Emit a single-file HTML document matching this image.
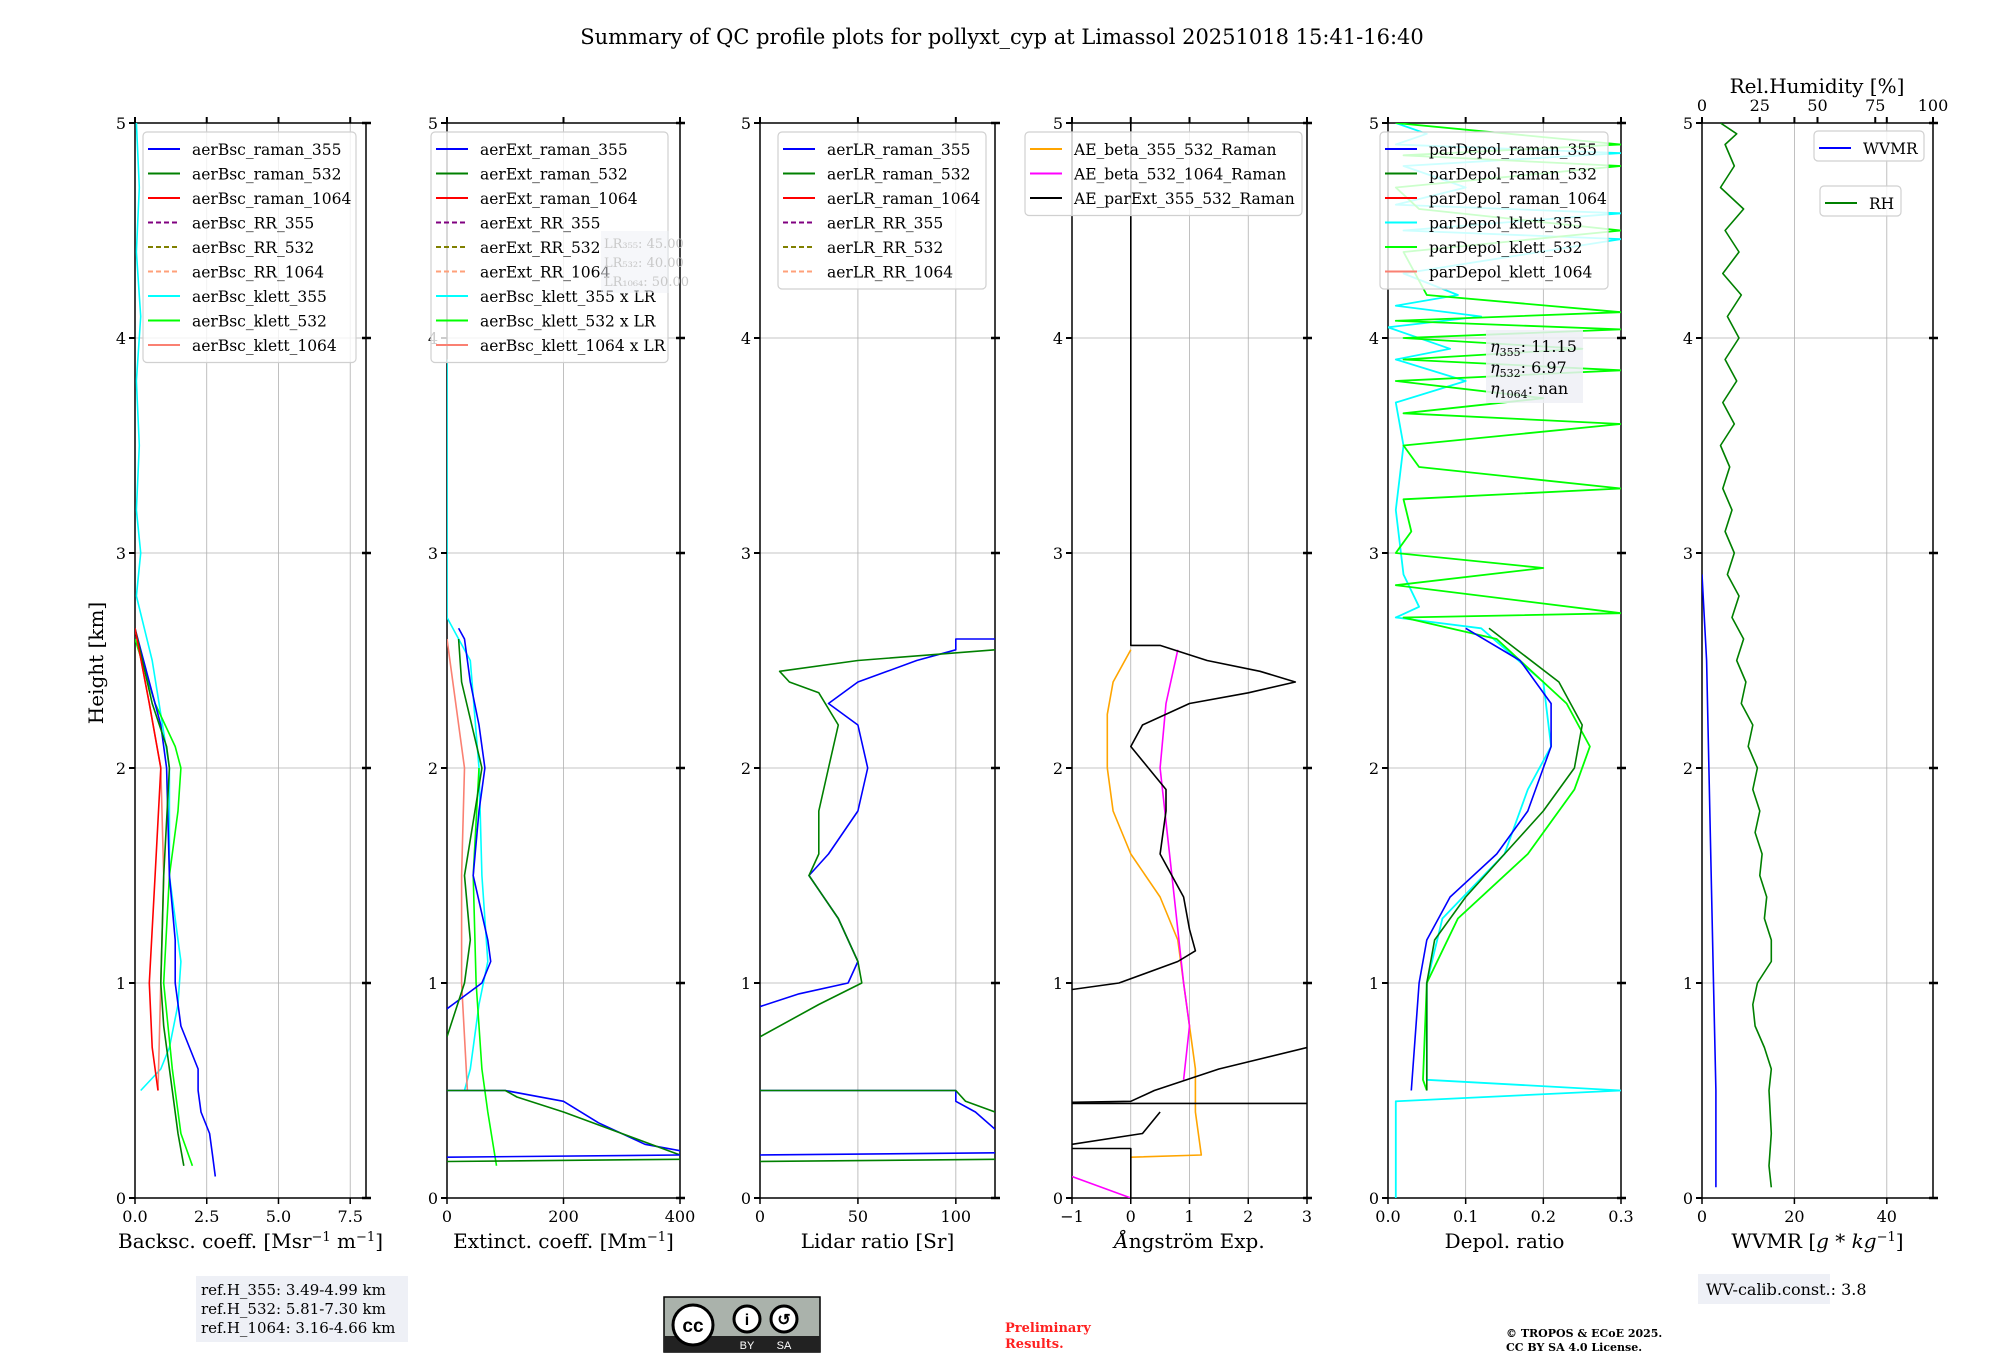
<!DOCTYPE html>
<html><head><meta charset="utf-8"><style>
html,body{margin:0;padding:0;background:#fff;}
svg{display:block;font-family:"DejaVu Serif","Liberation Serif",serif;}
</style></head><body>
<svg id="fig" width="2000" height="1360" viewBox="0 0 2000 1360" xmlns="http://www.w3.org/2000/svg">
<rect width="2000" height="1360" fill="#fff"/>
<text x="1002" y="44" font-size="21" text-anchor="middle">Summary of QC profile plots for pollyxt_cyp at Limassol 20251018 15:41-16:40</text>
<text transform="translate(103,663) rotate(-90)" font-size="20" text-anchor="middle">Height [km]</text>
<g id="plots"></g>
<g>
<rect x="196" y="1276" width="212" height="66" fill="#eef0f6"/>
<text x="201" y="1295" font-size="15">ref.H_355: 3.49-4.99 km</text>
<text x="201" y="1314" font-size="15">ref.H_532: 5.81-7.30 km</text>
<text x="201" y="1333" font-size="15">ref.H_1064: 3.16-4.66 km</text>
</g>
<g>
<rect x="664" y="1297" width="156" height="55" fill="#aab2ab" stroke="#000" stroke-width="1.5"/>
<rect x="664" y="1336" width="156" height="16" fill="#222"/>
<circle cx="693" cy="1325" r="20" fill="#fff" stroke="#000" stroke-width="3"/>
<text x="693" y="1332" font-size="19" font-weight="bold" text-anchor="middle" font-family="Liberation Sans,sans-serif">cc</text>
<circle cx="747" cy="1319" r="13" fill="#fff" stroke="#000" stroke-width="3"/>
<circle cx="784" cy="1319" r="13" fill="#fff" stroke="#000" stroke-width="3"/>
<text x="747" y="1325" font-size="16" font-weight="bold" text-anchor="middle" font-family="Liberation Sans,sans-serif">i</text>
<text x="784" y="1325" font-size="16" font-weight="bold" text-anchor="middle" font-family="Liberation Sans,sans-serif">↺</text>
<text x="747" y="1349" font-size="11" fill="#fff" text-anchor="middle" font-family="Liberation Sans,sans-serif">BY</text>
<text x="784" y="1349" font-size="11" fill="#fff" text-anchor="middle" font-family="Liberation Sans,sans-serif">SA</text>
</g>
<text x="1005" y="1332" font-size="13" font-weight="bold" fill="#ff2020">Preliminary</text>
<text x="1005" y="1348" font-size="13" font-weight="bold" fill="#ff2020">Results.</text>
<text x="1506" y="1337" font-size="11" font-weight="bold">© TROPOS &amp; ECoE 2025.</text>
<text x="1506" y="1351" font-size="11" font-weight="bold">CC BY SA 4.0 License.</text>
<g>
<rect x="1698" y="1274" width="132" height="30" fill="#eef0f6"/>
<text x="1706" y="1295" font-size="16">WV-calib.const.: 3.8</text>
</g>
</svg>
<script>
// ---- data: [value, height km] ----
const bscRaman355=[[0,2.65],[0.5,2.4],[0.9,2.2],[1.1,2.0],[1.2,1.5],[1.4,1.2],[1.4,1.0],[1.6,0.8],[2.2,0.6],[2.2,0.5],[2.3,0.4],[2.6,0.3],[2.7,0.2],[2.8,0.1]];
const bscRaman532=[[0,2.65],[0.6,2.3],[1.1,2.1],[1.2,2.0],[1.0,1.5],[0.9,1.0],[1.0,0.8],[1.3,0.5],[1.5,0.3],[1.7,0.15]];
const bscRaman1064=[[0,2.65],[0.5,2.3],[0.9,2.0],[0.7,1.5],[0.5,1.0],[0.6,0.7],[0.8,0.5]];
const bscKlett355=[[0.05,5],[0.15,4.7],[0.05,4.4],[0.2,4.1],[0.05,3.8],[0.15,3.5],[0.05,3.2],[0.2,3.0],[0.05,2.8],[0.6,2.5],[1.2,2.0],[1.2,1.5],[1.6,1.1],[1.5,0.9],[1.2,0.7],[0.9,0.6],[0.2,0.5]];
const bscKlett532=[[0,2.6],[0.7,2.3],[1.4,2.1],[1.6,2.0],[1.5,1.8],[1.2,1.5],[1.0,1.0],[1.3,0.6],[1.6,0.3],[2.0,0.15]];
const bscKlett1064=[[0,2.65],[0.5,2.3],[0.9,2.0],[1.0,1.5],[0.9,1.0],[0.8,0.5]];
const extRaman355=[[20,2.65],[30,2.6],[40,2.4],[55,2.2],[65,2.0],[55,1.8],[45,1.5],[70,1.2],[75,1.1],[60,1.0],[10,0.9],[0,0.88]];
const extRaman355Low=[[0,0.5],[100,0.5],[200,0.45],[260,0.35],[340,0.25],[400,0.22]];
const extRaman532=[[20,2.6],[25,2.4],[60,2.0],[30,1.5],[40,1.2],[30,1.0],[0,0.75]];
const extRaman532Low=[[0,0.5],[100,0.5],[120,0.47],[200,0.4],[300,0.3],[400,0.2]];
const extKlett355=[[0,3.9],[0,2.7],[40,2.5],[55,2.0],[60,1.5],[70,1.1],[55,0.9],[40,0.6],[30,0.5]];
const extKlett532=[[55,2.0],[45,1.5],[50,1.0],[60,0.6],[70,0.4],[85,0.15]];
const extKlett1064=[[0,2.6],[30,2.0],[25,1.5],[25,1.0],[35,0.5]];
const lrRaman355=[[120,2.6],[100,2.6],[100,2.55],[80,2.5],[65,2.45],[50,2.4],[35,2.3],[50,2.2],[55,2.0],[50,1.8],[35,1.6],[25,1.5],[40,1.3],[50,1.1],[45,1.0],[20,0.95],[0,0.89]];
const lrRaman355Low=[[0,0.5],[100,0.5],[100,0.45],[110,0.4],[120,0.32]];
const lrRaman532=[[120,2.55],[50,2.5],[10,2.45],[15,2.4],[30,2.35],[40,2.2],[35,2.0],[30,1.8],[30,1.6],[25,1.5],[40,1.3],[50,1.1],[52,1.0],[30,0.9],[0,0.75]];
const lrRaman532Low=[[0,0.5],[100,0.5],[105,0.45],[120,0.4]];
const aeBeta355532=[[0,2.55],[-0.3,2.4],[-0.4,2.25],[-0.4,2.0],[-0.3,1.8],[0,1.6],[0.5,1.4],[0.8,1.2],[0.9,1.0],[1.0,0.8],[1.1,0.6],[1.1,0.4],[1.2,0.2],[0,0.19]];
const aeBeta5321064=[[0.8,2.55],[0.6,2.3],[0.5,2.0],[0.7,1.5],[0.9,1.0],[1.0,0.8],[0.9,0.55]];
const aeBeta5321064Low=[[-1,0.1],[0,0]];
const aeParExt=[[0,5],[0,2.57],[0.5,2.57],[1.3,2.5],[2.2,2.45],[2.8,2.4],[2.0,2.35],[1.0,2.3],[0.2,2.2],[0,2.1],[0.3,2.0],[0.6,1.9],[0.6,1.8],[0.5,1.6],[0.9,1.4],[1.0,1.25],[1.1,1.15],[0.8,1.1],[-0.2,1.0],[-1,0.97]];
const aeParExtLow1=[[3,0.7],[1.5,0.6],[0.4,0.5],[0,0.45],[-1,0.445]];
const aeParExtLow2=[[3,0.44],[-1,0.44]];
const aeParExtLow3=[[0.5,0.4],[0.2,0.3],[-1,0.25]];
const aeParExtLow4=[[-1,0.23],[0,0.23],[0,0]];
const depRaman355=[[0.1,2.65],[0.17,2.5],[0.21,2.3],[0.21,2.1],[0.2,2.0],[0.18,1.8],[0.14,1.6],[0.08,1.4],[0.05,1.2],[0.04,1.0],[0.03,0.5]];
const depRaman532=[[0.13,2.65],[0.22,2.4],[0.25,2.2],[0.24,2.0],[0.2,1.8],[0.15,1.6],[0.1,1.4],[0.06,1.2],[0.05,1.0],[0.05,0.5]];
const depKlett355=[[0.01,5],[0.05,4.95],[0.01,4.9],[0.3,4.86],[0.02,4.8],[0.1,4.7],[0.01,4.62],[0.3,4.58],[0.02,4.5],[0.3,4.46],[0.02,4.3],[0.09,4.2],[0.01,4.15],[0.12,4.1],[0.0,4.05],[0.08,3.95],[0.01,3.9],[0.1,3.8],[0.01,3.7],[0.02,3.5],[0.01,3.2],[0.02,2.9],[0.04,2.75],[0.01,2.7],[0.12,2.65],[0.2,2.4],[0.21,2.1],[0.18,1.9],[0.15,1.6],[0.07,1.3],[0.05,1.0],[0.05,0.55],[0.3,0.5],[0.01,0.45],[0.01,0]];
const depKlett532=[[0.01,5],[0.3,4.9],[0.02,4.85],[0.3,4.8],[0.01,4.7],[0.04,4.6],[0.3,4.5],[0.02,4.4],[0.05,4.2],[0.3,4.12],[0.01,4.08],[0.3,4.04],[0.02,4.0],[0.25,3.95],[0.02,3.9],[0.3,3.85],[0.01,3.8],[0.2,3.72],[0.02,3.65],[0.3,3.6],[0.02,3.5],[0.04,3.4],[0.3,3.3],[0.02,3.25],[0.03,3.1],[0.01,3.0],[0.2,2.93],[0.01,2.85],[0.3,2.72],[0.02,2.7],[0.14,2.6],[0.23,2.3],[0.26,2.1],[0.24,1.9],[0.18,1.6],[0.09,1.3],[0.05,1.0],[0.045,0.55],[0.05,0.5]];
const wvmr=[[0,2.9],[1,2.5],[1.5,2.0],[2,1.5],[2.5,1.0],[3,0.5],[3,0.05]];
const rh=[[8,5],[15,4.95],[10,4.9],[14,4.8],[8,4.7],[18,4.6],[10,4.5],[16,4.4],[9,4.3],[17,4.2],[11,4.1],[16,4.0],[10,3.9],[15,3.8],[9,3.7],[14,3.6],[8,3.5],[12,3.4],[9,3.3],[13,3.2],[10,3.1],[14,3.0],[11,2.9],[16,2.8],[13,2.7],[18,2.6],[15,2.5],[19,2.4],[17,2.3],[22,2.2],[20,2.1],[24,2.0],[22,1.9],[25,1.8],[23,1.7],[26,1.6],[25,1.5],[28,1.4],[27,1.3],[30,1.2],[30,1.1],[24,1.0],[22,0.9],[23,0.8],[27,0.7],[30,0.6],[29,0.5],[30,0.3],[29,0.15],[30,0.05]];

const yTicks=[0,1,2,3,4,5];
const xTicks1=[0,2.5,5,7.5], xTickLabels1=["0.0","2.5","5.0","7.5"];
const xTicks2=[0,200,400], xTicks3=[0,50,100], xTicks4=[-1,0,1,2,3];
const xTicks5=[0,0.1,0.2,0.3], xTickLabels5=["0.0","0.1","0.2","0.3"];
const xTicks6=[0,20,40], rhTicks=[0,25,50,75,100];

const NS="http://www.w3.org/2000/svg";
const TOP=123, BOT=1198;
const root=document.getElementById('plots');
function el(tag,attrs,parent){const e=document.createElementNS(NS,tag);for(const k in attrs)e.setAttribute(k,attrs[k]);(parent||root).appendChild(e);return e;}
function yScale(h){return BOT-h/5*(BOT-TOP);}

function panel(name,left,right,xmin,xmax,ticks,tickLabels,xlabel){
  const g=el('g',{});
  
  
  const xs=v=>left+(v-xmin)/(xmax-xmin)*(right-left);
  ticks.forEach((t,i)=>{
    const gl=el('line',{x1:xs(t),x2:xs(t),y1:TOP,y2:BOT,stroke:'#b0b0b0','stroke-width':0.8},g);
    
    
    el('line',{x1:xs(t),x2:xs(t),y1:BOT,y2:BOT+6,stroke:'#000','stroke-width':1.5},g);
    el('line',{x1:xs(t),x2:xs(t),y1:TOP,y2:TOP-6,stroke:'#000','stroke-width':2},g);
    const tl=el('text',{x:xs(t),y:BOT+24,'font-size':16,'text-anchor':'middle'},g);
    
    
    tl.textContent=tickLabels?tickLabels[i]:String(t).replace('-','−');
  });
  yTicks.forEach(h=>{
    el('line',{x1:left,x2:right,y1:yScale(h),y2:yScale(h),stroke:'#b0b0b0','stroke-width':0.8},g);
    el('line',{x1:left-6,x2:left,y1:yScale(h),y2:yScale(h),stroke:'#000','stroke-width':2},g);
    el('line',{x1:right-4,x2:right+5,y1:yScale(h),y2:yScale(h),stroke:'#000','stroke-width':2.5},g);
    const yl=el('text',{x:left-9,y:yScale(h)+6,'font-size':16,'text-anchor':'end'},g);
    
    
    yl.textContent=h;
  });
  el('rect',{x:left,y:TOP,width:right-left,height:BOT-TOP,fill:'none',stroke:'#000','stroke-width':1.5},g);
  const xl=el('text',{x:(left+right)/2,y:BOT+50,'font-size':20,'text-anchor':'middle'},g);
  
  
  xl.innerHTML=xlabel;
  const clip=el('clipPath',{id:'c'+name},g);
  el('rect',{x:left,y:TOP,width:right-left,height:BOT-TOP},clip);
  const lines=el('g',{'clip-path':'url(#c'+name+')'},g);
  return {g,lines,xs};
}
function series(p,data,color,name,width){
  const d=data.map((pt,i)=>(i?'L':'M')+p.xs(pt[0]).toFixed(1)+' '+yScale(pt[1]).toFixed(1)).join(' ');
  const path=el('path',{d:d,fill:'none',stroke:color,'stroke-width':width||1.6,'stroke-linejoin':'round'},p.lines);
  
  
}
function legend(name,x,y,w,entries,rowH){
  const g=el('g',{});
  
  
  rowH=rowH||24.5;
  el('rect',{x:x,y:y,width:w,height:entries.length*rowH+10,rx:4,fill:'rgba(255,255,255,0.8)',stroke:'#d0d0d0','stroke-width':1.2},g);
  entries.forEach((e,i)=>{
    const cy=y+17+i*rowH;
    el('line',{x1:x+5,x2:x+37,y1:cy,y2:cy,stroke:e[1],'stroke-width':2,'stroke-dasharray':e[2]?'5,3':'none'},g);
    const t=el('text',{x:x+49,y:cy+6,'font-size':15.5},g);
    
    
    t.textContent=e[0];
  });
}

const C={b:'#0000ff',g:'#008000',r:'#ff0000',pu:'#800080',ol:'#808000',ls:'#ffa07a',cy:'#00ffff',li:'#00ff00',sa:'#fa8072'};

const p1=panel('backscatter-panel',135,366,0,8.05,xTicks1,xTickLabels1,'Backsc. coeff. [Msr<tspan dy="-7" font-size="13">−1</tspan><tspan dy="7"> m</tspan><tspan dy="-7" font-size="13">−1</tspan><tspan dy="7">]</tspan>');
series(p1,bscKlett355,C.cy,'bsc-klett-355');series(p1,bscKlett532,C.li,'bsc-klett-532');series(p1,bscKlett1064,C.sa,'bsc-klett-1064');
series(p1,bscRaman355,C.b,'bsc-raman-355');series(p1,bscRaman532,C.g,'bsc-raman-532');series(p1,bscRaman1064,C.r,'bsc-raman-1064');
legend('backscatter-legend',143,132,213,[['aerBsc_raman_355',C.b],['aerBsc_raman_532',C.g],['aerBsc_raman_1064',C.r],['aerBsc_RR_355',C.pu,1],['aerBsc_RR_532',C.ol,1],['aerBsc_RR_1064',C.ls,1],['aerBsc_klett_355',C.cy],['aerBsc_klett_532',C.li],['aerBsc_klett_1064',C.sa]]);

const p2=panel('extinction-panel',447,680,0,400,xTicks2,null,'Extinct. coeff. [Mm<tspan dy="-7" font-size="13">−1</tspan><tspan dy="7">]</tspan>');
series(p2,extKlett355,C.cy,'ext-klett-355');series(p2,extKlett532,C.li,'ext-klett-532');series(p2,extKlett1064,C.sa,'ext-klett-1064');
series(p2,extRaman355,C.b,'ext-raman-355');series(p2,extRaman355Low,C.b,'ext-raman-355-low');
series(p2,extRaman532,C.g,'ext-raman-532');series(p2,extRaman532Low,C.g,'ext-raman-532-low');
legend('extinction-legend',431,132,237,[['aerExt_raman_355',C.b],['aerExt_raman_532',C.g],['aerExt_raman_1064',C.r],['aerExt_RR_355',C.pu,1],['aerExt_RR_532',C.ol,1],['aerExt_RR_1064',C.ls,1],['aerBsc_klett_355 x LR',C.cy],['aerBsc_klett_532 x LR',C.li],['aerBsc_klett_1064 x LR',C.sa]]);
(function(){const g=el('g',{});
el('rect',{x:601,y:231,width:68,height:62,fill:'rgba(238,240,246,0.5)'},g);
['LR₃₅₅: 45.00','LR₅₃₂: 40.00','LR₁₀₆₄: 50.00'].forEach((s,i)=>{const t=el('text',{x:604,y:248+i*19,'font-size':13,fill:'#c8c8c8'},g);t.textContent=s;});})();

const p3=panel('lidar-ratio-panel',760,995,0,120,xTicks3,null,'Lidar ratio [Sr]');
series(p3,lrRaman355,C.b,'lr-raman-355');series(p3,lrRaman355Low,C.b,'lr-raman-355-low');
series(p3,lrRaman532,C.g,'lr-raman-532');series(p3,lrRaman532Low,C.g,'lr-raman-532-low');
series(p3,[[0,0.2],[120,0.21]],C.b,'lr-raman-355-floor');series(p3,[[0,0.17],[120,0.18]],C.g,'lr-raman-532-floor');
legend('lidar-ratio-legend',778,132,208,[['aerLR_raman_355',C.b],['aerLR_raman_532',C.g],['aerLR_raman_1064',C.r],['aerLR_RR_355',C.pu,1],['aerLR_RR_532',C.ol,1],['aerLR_RR_1064',C.ls,1]]);
series(p2,[[0,0.19],[400,0.2]],C.b,'ext-raman-355-floor');series(p2,[[0,0.17],[400,0.18]],C.g,'ext-raman-532-floor');

const p4=panel('angstrom-panel',1072,1307,-1,3,xTicks4,null,'<tspan font-style="italic">Å</tspan>ngström Exp.');
series(p4,aeBeta355532,'#ffa500','ae-beta-355-532');series(p4,aeBeta5321064,'#ff00ff','ae-beta-532-1064');series(p4,aeBeta5321064Low,'#ff00ff','ae-beta-532-1064-low');
[aeParExt,aeParExtLow1,aeParExtLow2,aeParExtLow3,aeParExtLow4].forEach((s,i)=>series(p4,s,'#000','ae-parext-355-532-'+i));
legend('angstrom-legend',1025,132,277,[['AE_beta_355_532_Raman','#ffa500'],['AE_beta_532_1064_Raman','#ff00ff'],['AE_parExt_355_532_Raman','#000']]);

const p5=panel('depol-panel',1388,1621,0,0.3,xTicks5,xTickLabels5,'Depol. ratio');
series(p5,depKlett355,C.cy,'depol-klett-355',1.8);series(p5,depKlett532,C.li,'depol-klett-532',1.8);
series(p5,depRaman355,C.b,'depol-raman-355');series(p5,depRaman532,C.g,'depol-raman-532');
legend('depol-legend',1380,132,228,[['parDepol_raman_355',C.b],['parDepol_raman_532',C.g],['parDepol_raman_1064',C.r],['parDepol_klett_355',C.cy],['parDepol_klett_532',C.li],['parDepol_klett_1064',C.sa]]);
(function(){const g=el('g',{});
el('rect',{x:1486,y:330,width:97,height:73,fill:'rgba(238,240,246,0.85)'},g);
[['355','11.15'],['532','6.97'],['1064','nan']].forEach((s,i)=>{const t=el('text',{x:1490,y:352+i*21,'font-size':16},g);t.innerHTML='<tspan font-style="italic">η</tspan><tspan font-size="11" dy="4">'+s[0]+'</tspan><tspan dy="-4">: '+s[1]+'</tspan>';});})();

const p6=panel('wvmr-panel',1702,1933,0,50,xTicks6,null,'WVMR [<tspan font-style="italic">g</tspan> * <tspan font-style="italic">kg</tspan><tspan dy="-7" font-size="13">−1</tspan><tspan dy="7">]</tspan>');
series(p6,wvmr,C.b,'wvmr-line');
const rhScale=v=>1702+v/100*(1933-1702);
series({lines:p6.lines,xs:rhScale},rh,C.g,'rh-line');
rhTicks.forEach(t=>{
  el('line',{x1:rhScale(t),x2:rhScale(t),y1:TOP,y2:TOP-6,stroke:'#000','stroke-width':2},p6.g);
  const tl=el('text',{x:rhScale(t),y:TOP-12,'font-size':16,'text-anchor':'middle'},p6.g);
  
  
  tl.textContent=t;
});
const rhTitle=el('text',{x:1817,y:93,'font-size':20,'text-anchor':'middle'},p6.g);


rhTitle.textContent='Rel.Humidity [%]';
legend('wvmr-legend',1814,131,110,[['WVMR',C.b]],20);
legend('rh-legend',1820,186,81,[['RH',C.g]],20);
</script>
</body></html>
